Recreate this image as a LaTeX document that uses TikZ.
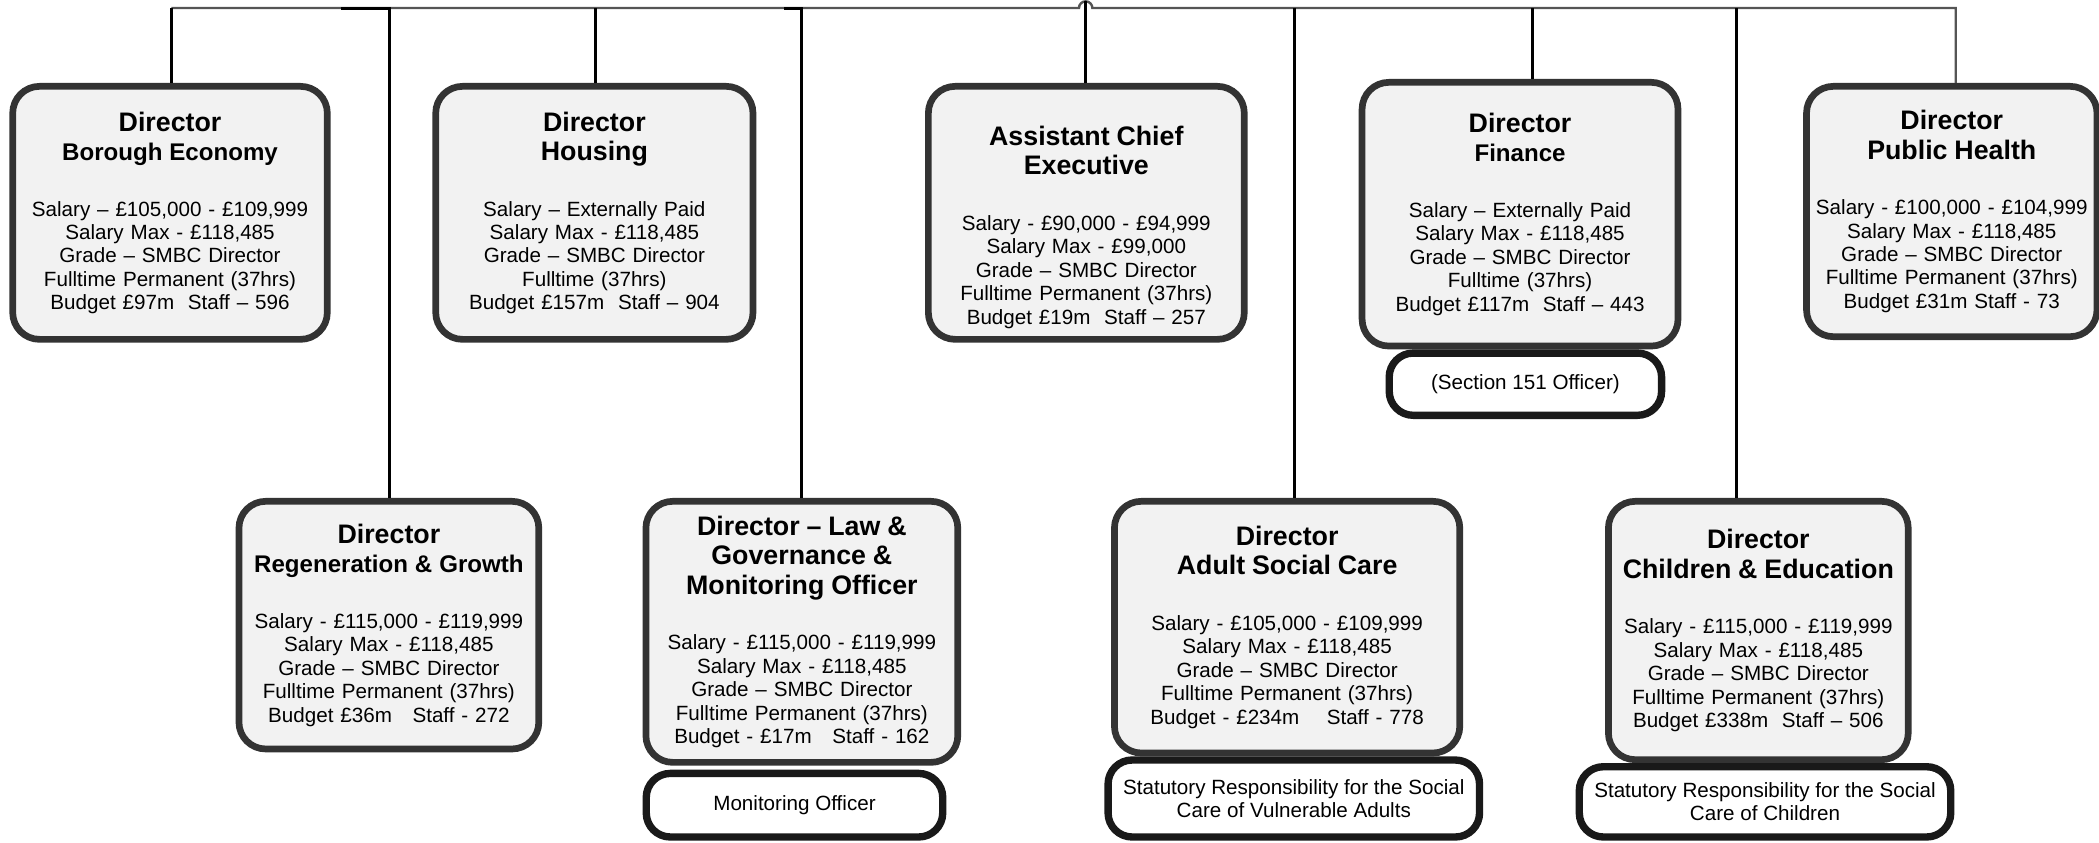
\documentclass[tikz,border=0pt]{standalone}
\usepackage{fontspec}
\setmainfont{Liberation Sans}
\usepackage{tikz}

\definecolor{postfill}{HTML}{F2F2F2}
\definecolor{postedge}{HTML}{333333}
\definecolor{busline}{HTML}{555555}

\newcommand{\hd}[1]{{\bfseries\fontsize{20}{22}\selectfont #1\par}}
\newcommand{\hdlast}[1]{{\bfseries\fontsize{20}{22}\selectfont #1\par}\vspace{24pt}}
\newcommand{\hdsmall}[1]{{\bfseries\fontsize{18}{22}\selectfont #1\par}\vspace{24pt}}

\begin{document}
\begin{tikzpicture}[x=1pt, y=-1pt,
		post/.style = {draw=postedge, line width=5pt, fill=postfill,
				rounded corners=20pt, align=center, inner sep=0pt,
				text width=214pt, font=\fontsize{15.4}{17.5}\selectfont},
		duty/.style = {draw=black!90, line width=5.5pt, fill=white,
				rounded corners=18pt, align=center, inner sep=0pt,
				font=\fontsize{15.4}{17.5}\selectfont},
		link/.style = {draw=black, line width=2.2pt},
		bus/.style = {draw=busline, line width=1.8pt}]
	\clip (0,0) rectangle (1568,629);

	\node[post, minimum width=235pt, minimum height=189pt] (economy) at (127,159)
		{\hd{Director}\hdsmall{Borough Economy}
		Salary – £105,000 - £109,999\\ Salary Max - £118,485\\ Grade – SMBC Director\\
		Fulltime Permanent (37hrs)\\ Budget £97m\ \ Staff – 596};
	\node[post, minimum width=237pt, minimum height=189pt] (housing) at (444,159)
		{\hd{Director}\hdlast{Housing}
		Salary – Externally Paid\\ Salary Max - £118,485\\ Grade – SMBC Director\\
		Fulltime (37hrs)\\ Budget £157m\ \ Staff – 904};
	\node[post, minimum width=236pt, minimum height=189pt] (ace) at (811.5,159)
		{\hdlast{\rule{0pt}{36pt}Assistant Chief\\ Executive}
		Salary - £90,000 - £94,999\\ Salary Max - £99,000\\ Grade – SMBC Director\\
		Fulltime Permanent (37hrs)\\ Budget £19m\ \ Staff – 257};
	\node[post, minimum width=236pt, minimum height=197pt] (finance) at (1135.5,160)
		{\hd{Director}\hdsmall{Finance}
		Salary – Externally Paid\\ Salary Max - £118,485\\ Grade – SMBC Director\\
		Fulltime (37hrs)\\ Budget £117m\ \ Staff – 443};
	\node[duty, minimum width=203.5pt, minimum height=46.5pt] (s151) at (1139.5,287)
		{(Section 151 Officer)};
	\node[post, minimum width=217pt, minimum height=187pt] (health) at (1458,158)
		{\hd{Director}\hdlast{Public Health}
		Salary - £100,000 - £104,999\\ Salary Max - £118,485\\ Grade – SMBC Director\\
		Fulltime Permanent (37hrs)\\ Budget £31m Staff - 73};

	\node[post, minimum width=224pt, minimum height=185pt] (regen) at (290.5,467)
		{\hd{Director}\hdsmall{Regeneration \& Growth}
		Salary - £115,000 - £119,999\\ Salary Max - £118,485\\ Grade – SMBC Director\\
		Fulltime Permanent (37hrs)\\ Budget £36m\ \ \ Staff - 272};
	\node[post, minimum width=233pt, minimum height=195pt] (law) at (599,472)
		{\hdlast{Director – Law \&\\ Governance \&\\ Monitoring Officer}
		Salary - £115,000 - £119,999\\ Salary Max - £118,485\\ Grade – SMBC Director\\
		Fulltime Permanent (37hrs)\\ Budget - £17m\quad Staff - 162};
	\node[duty, minimum width=221.5pt, minimum height=47.5pt] (monitor) at (593.5,601.5)
		{Monitoring Officer};
	\node[post, minimum width=258pt, minimum height=188pt] (adults) at (961.5,468.5)
		{\hd{Director}\hdlast{Adult Social Care}
		Salary - £105,000 - £109,999\\ Salary Max - £118,485\\ Grade – SMBC Director\\
		Fulltime Permanent (37hrs)\\ Budget - £234m\quad\ Staff - 778};
	\node[duty, minimum width=277.5pt, minimum height=57.5pt] (adultsduty) at (966.5,596.5)
		{Statutory Responsibility for the Social\\ Care of Vulnerable Adults};
	\node[post, minimum width=224pt, minimum height=193pt] (children) at (1313.5,471)
		{\hd{Director}\hdlast{Children \& Education}
		Salary - £115,000 - £119,999\\ Salary Max - £118,485\\ Grade – SMBC Director\\
		Fulltime Permanent (37hrs)\\ Budget £338m\ \ Staff – 506};
	\node[duty, minimum width=277.5pt, minimum height=52.5pt] (childrenduty) at (1318.5,599)
		{Statutory Responsibility for the Social\\ Care of Children};

	\coordinate (jEco) at (128,6);
	\coordinate (jRegenL) at (255,6);
	\coordinate (jRegen) at (291,6);
	\coordinate (jHousing) at (445,6);
	\coordinate (jLawL) at (586,6);
	\coordinate (jLaw) at (599,6);
	\coordinate (jAce) at (811,1);
	\coordinate (jAdults) at (967,6);
	\coordinate (jFinance) at (1145,6);
	\coordinate (jChildren) at (1297,6);
	\coordinate (jHealth) at (1461,6);

	\draw[bus] (jEco) -- (806,6) arc[start angle=180, end angle=0, radius=5pt]
		-- (jHealth) -- (jHealth |- health.north);
	\draw[link] (jEco) -- (jEco |- economy.north);
	\draw[link] (jRegenL) -- (jRegen) -- (jRegen |- regen.north);
	\draw[link] (jHousing) -- (jHousing |- housing.north);
	\draw[link] (jLawL) -- (jLaw) -- (jLaw |- law.north);
	\draw[link] (jAce) -- (jAce |- ace.north);
	\draw[link] (jAdults) -- (jAdults |- adults.north);
	\draw[link] (jFinance) -- (jFinance |- finance.north);
	\draw[link] (jChildren) -- (jChildren |- children.north);
\end{tikzpicture}
\end{document}
